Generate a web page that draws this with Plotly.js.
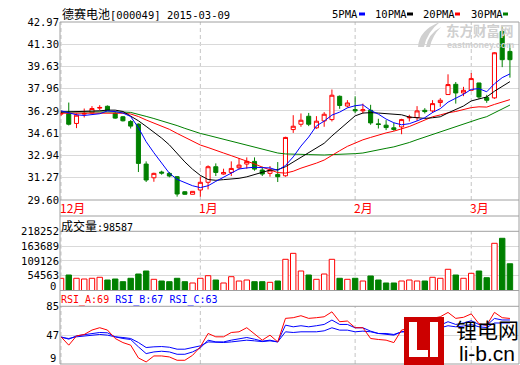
<!DOCTYPE html>
<html><head><meta charset="utf-8">
<script src="https://cdn.plot.ly/plotly-3.0.1.min.js"></script>
<style>html,body{margin:0;padding:0;background:#fff;}#chart{width:520px;height:365px;}</style>
</head><body><div id="chart"></div>
<script>
// ---- data ----
const openP  = [36.05,36.09,35.35,36.05,36.15,36.50,36.64,36.10,35.85,35.50,35.30,32.30,31.27,31.70,31.60,31.35,30.22,30.03,30.35,30.93,32.10,31.55,31.67,32.02,32.30,32.50,31.85,31.60,31.52,31.42,34.89,35.29,35.89,35.02,35.54,35.64,37.39,36.66,36.39,36.30,36.34,35.32,35.22,35.02,35.09,35.77,35.79,36.34,36.29,36.92,37.52,38.29,37.64,37.84,38.39,37.29,37.27,42.26,40.76];
const highP  = [36.30,36.92,36.10,36.47,36.65,36.72,36.70,36.25,35.90,35.60,35.35,32.50,31.65,31.80,31.70,31.40,30.25,30.25,31.35,32.20,32.35,31.95,32.50,32.75,32.80,32.80,32.10,32.15,32.45,34.35,35.97,36.10,36.14,35.90,36.20,37.90,37.45,37.10,37.39,36.84,36.75,35.70,35.60,35.40,35.70,36.00,36.65,36.50,37.10,37.25,39.04,38.46,38.10,39.14,38.40,37.50,40.70,42.63,41.33];
const lowP   = [35.90,35.20,35.00,35.80,36.10,36.34,36.30,35.70,35.50,34.97,31.70,30.95,30.97,31.50,31.30,29.85,30.00,30.03,29.85,30.40,31.40,31.50,31.40,31.90,31.95,31.80,31.40,31.35,30.95,31.35,34.64,35.10,35.15,34.95,35.10,35.50,36.45,36.55,36.14,36.10,35.25,34.97,34.85,34.80,34.54,35.50,35.55,36.10,36.14,36.60,37.50,36.84,37.40,37.84,37.20,36.90,37.20,39.58,38.79];
const closeP = [36.10,35.29,35.97,36.10,36.47,36.55,36.34,35.75,35.55,35.15,32.35,31.10,31.60,31.62,31.40,30.05,30.03,30.25,30.93,32.10,31.67,31.67,31.97,32.22,32.50,31.92,31.55,31.85,31.35,34.30,35.14,35.59,35.29,35.52,36.04,37.47,36.70,36.89,36.30,36.38,35.39,35.27,35.04,34.90,35.64,35.82,36.29,36.24,36.84,37.09,38.27,37.64,37.84,38.72,37.34,37.09,40.66,40.14,40.14];
const volume = [45000,57100,45000,42400,45000,48700,38700,42400,32500,45000,60800,71900,41300,35000,32500,45000,32500,27700,45000,54600,38700,27700,50900,35000,38700,32500,32500,30200,35000,115000,137000,71900,57100,41300,60800,115000,45000,41300,45000,35000,53500,38700,27700,27700,35000,38700,35000,35000,48700,45000,78200,57100,45000,63400,71900,47200,174000,192500,98587];
const ma5  = [36.30,36.15,36.00,35.95,35.99,36.08,36.29,36.24,36.13,35.87,35.03,33.98,33.15,32.36,31.61,31.15,30.94,30.67,30.53,30.67,31.00,31.32,31.67,31.93,32.01,32.06,32.03,32.01,31.83,32.19,32.84,33.65,34.33,35.17,35.52,35.98,36.20,36.52,36.68,36.75,36.33,36.05,35.68,35.40,35.25,35.33,35.54,35.78,36.17,36.46,36.95,37.22,37.54,37.91,37.96,37.73,38.33,38.79,39.07];
const ma10 = [36.20,36.22,36.22,36.22,36.25,36.30,36.35,36.35,36.25,35.93,35.55,35.13,34.70,34.25,33.74,33.09,32.46,31.91,31.45,31.14,31.08,31.13,31.17,31.23,31.34,31.53,31.68,31.84,31.88,32.10,32.45,32.84,33.17,33.50,33.86,34.41,34.93,35.43,35.92,36.13,36.16,36.13,36.10,36.04,36.00,35.83,35.79,35.73,35.78,35.85,36.14,36.38,36.66,37.04,37.21,37.34,37.77,38.16,38.49];
const ma20 = [36.12,36.12,36.12,36.13,36.14,36.15,36.16,36.15,36.12,36.06,35.87,35.61,35.38,35.15,34.91,34.60,34.29,33.99,33.73,33.54,33.31,33.13,32.93,32.74,32.54,32.31,32.07,31.87,31.66,31.62,31.76,31.99,32.17,32.37,32.60,32.97,33.30,33.63,33.90,34.12,34.30,34.48,34.64,34.77,34.93,35.12,35.36,35.58,35.85,35.99,36.15,36.25,36.38,36.54,36.60,36.58,36.78,36.95,37.14];
const ma30 = [36.22,36.22,36.22,36.22,36.23,36.24,36.25,36.24,36.21,36.18,36.05,35.88,35.72,35.56,35.40,35.19,34.98,34.78,34.60,34.46,34.31,34.16,34.02,33.88,33.75,33.60,33.44,33.29,33.13,33.06,33.02,33.03,33.01,32.99,32.98,33.01,33.02,33.06,33.08,33.13,33.23,33.37,33.48,33.59,33.73,33.92,34.13,34.33,34.53,34.69,34.91,35.11,35.31,35.53,35.69,35.86,36.16,36.44,36.73];
const rsiA = [44.8,33.8,46.0,47.9,53.7,56.8,53.7,42.6,37.2,33.8,17.0,11.7,19.6,19.6,18.3,13.9,13.9,20.5,31.6,49.2,44.8,44.8,50.5,51.4,56.8,49.2,40.4,47.0,38.1,69.1,70.0,72.6,69.1,70.0,71.2,77.7,64.7,65.6,56.8,56.8,42.6,41.3,40.4,37.2,53.7,55.9,61.2,61.2,69.1,71.2,76.9,69.1,70.5,75.0,62.0,60.0,77.0,70.0,69.0];
const rsiB = [44.8,41.7,46.1,47.9,49.2,50.5,50.1,44.8,42.6,41.3,31.6,22.7,24.9,25.8,24.9,21.8,21.8,24.9,30.2,40.4,38.1,38.1,40.4,41.7,43.9,41.7,39.1,40.4,38.1,60.2,58.0,59.4,58.0,59.4,61.1,66.9,61.1,61.1,56.7,56.7,52.3,49.2,47.9,47.0,51.4,52.3,55.9,55.9,59.4,60.2,64.7,61.1,63.0,66.0,61.0,60.0,69.0,67.0,67.0];
const rsiC = [43.9,42.6,44.8,46.1,47.0,47.9,47.0,44.8,43.9,42.6,37.3,30.7,31.6,32.0,31.1,28.5,28.5,30.2,32.9,38.1,37.3,37.3,38.1,39.1,40.4,39.5,38.5,39.5,38.1,51.4,50.5,51.4,51.4,51.4,52.7,56.7,53.6,53.6,51.4,52.3,51.4,49.2,49.2,47.9,51.4,51.4,53.6,53.6,55.9,56.7,59.4,58.0,59.0,61.0,58.0,57.0,63.0,63.0,63.0];
const priceTicks = [29.60,31.27,32.94,34.61,36.29,37.96,39.63,41.30,42.97];
const volTicks = [54563,109126,163689,218252];
const rsiTicks = [47,85];
const monthIdx = [0,18,38,53];
const monthLabels = ['12月','1月','2月','3月'];
const titleName = '德赛电池', titleCode = '[000049] 2015-03-09';
const lastVol = 98587, lastRsi = [69,67,63];

// ---- geometry helpers ----
const Lp=60, Rp=519, Tp=22, Bp=364;
const px = x => (x-Lp)/(Rp-Lp);
const py = y => (Bp-y)/(Bp-Tp);
const P = (x,y) => px(x).toFixed(4)+','+py(y).toFixed(4);
const idx = closeP.map((_,i)=>i);
const up = closeP.map((c,i)=>c>=openP[i]);
const mono = 'DejaVu Sans Mono';
const cjk = 'Noto Sans CJK SC';
const RED='#ff0000', GRN='#008000', BLU='#0000ff';

const traces = [
  {type:'candlestick', x:idx, open:openP, high:highP, low:lowP, close:closeP,
   increasing:{line:{color:RED,width:1}, fillcolor:'#ffffff'},
   decreasing:{line:{color:GRN,width:1}, fillcolor:GRN},
   whiskerwidth:0, hoverinfo:'skip', xaxis:'x', yaxis:'y'},
  {type:'scatter', mode:'lines', x:idx, y:ma30, line:{color:GRN,width:1}, xaxis:'x', yaxis:'y'},
  {type:'scatter', mode:'lines', x:idx, y:ma20, line:{color:RED,width:1}, xaxis:'x', yaxis:'y'},
  {type:'scatter', mode:'lines', x:idx, y:ma10, line:{color:'#000000',width:1}, xaxis:'x', yaxis:'y'},
  {type:'scatter', mode:'lines', x:idx, y:ma5, line:{color:BLU,width:1}, xaxis:'x', yaxis:'y'},
  {type:'bar', x:idx, y:volume, width:0.7,
   marker:{color:up.map(u=>u?'#ffffff':GRN), line:{color:up.map(u=>u?RED:GRN), width:1}},
   xaxis:'x2', yaxis:'y2'},
  {type:'scatter', mode:'lines', x:idx, y:rsiC, line:{color:BLU,width:1}, xaxis:'x3', yaxis:'y3'},
  {type:'scatter', mode:'lines', x:idx, y:rsiB, line:{color:BLU,width:1}, xaxis:'x3', yaxis:'y3'},
  {type:'scatter', mode:'lines', x:idx, y:rsiA, line:{color:RED,width:1}, xaxis:'x3', yaxis:'y3'}
];

const xr = [-0.13, 59.17];
const xbase = {range:xr, showgrid:false, zeroline:false, showticklabels:false, ticks:'', showline:false, fixedrange:true};
const ybase = {showgrid:true, gridcolor:'#d9d9d9', gridwidth:1, zeroline:false, showline:false, ticks:'',
  tickfont:{family:mono,size:10.5,color:'#000'}, fixedrange:true};

const BORDER='#a0a0a0';
const shapes = [];
const hline = y => shapes.push({type:'line', xref:'paper', yref:'paper', x0:0, x1:1, y0:py(y), y1:py(y), line:{color:BORDER,width:1}});
[22,200,216,231.3,290.5,306.3,364].forEach(hline);
[0,1].forEach(x=>shapes.push({type:'line', xref:'paper', yref:'paper', x0:x, x1:x, y0:0, y1:1, line:{color:BORDER,width:1}}));
[['x','y'],['x2','y2'],['x3','y3']].forEach(([xa,ya])=>{
  monthIdx.forEach(m=>shapes.push({type:'line', xref:xa, yref:ya+' domain', x0:m, x1:m, y0:0, y1:1,
    layer:'below', line:{color:'#c4c4c4', width:1, dash:'4px,3px'}}));
});
// legend swatches
[[359,365,BLU],[407,413,'#000'],[455,460,RED],[503,508,GRN]].forEach(([a,b,c])=>
  shapes.push({type:'rect', xref:'paper', yref:'paper', x0:px(a), x1:px(b), y0:py(15.5), y1:py(12.5), fillcolor:c, line:{width:0}}));
// eastmoney watermark swoosh
shapes.push({type:'path', xref:'paper', yref:'paper', path:'M'+P(418,47)+' Q'+P(419,30)+' '+P(440,22)+' Q'+P(427,32)+' '+P(424,47)+' Z', fillcolor:'#d0d0d0', line:{width:0}});
shapes.push({type:'path', xref:'paper', yref:'paper', path:'M'+P(426,47)+' Q'+P(428,34)+' '+P(441,27)+' Q'+P(432,36)+' '+P(430,47)+' Z', fillcolor:'#d0d0d0', line:{width:0}});
// li-b.cn logo
shapes.push({type:'rect', xref:'paper', yref:'paper', x0:px(404), x1:px(444), y0:py(365), y1:py(317), fillcolor:'#cc0000', line:{width:0}});
[[409,417,322,357],[409,428,350,357],[430,438,322,357]].forEach(([a,b,c,d])=>
  shapes.push({type:'rect', xref:'paper', yref:'paper', x0:px(a), x1:px(b), y0:py(d), y1:py(c), fillcolor:'#ffffff', line:{width:0}}));

const ann = [];
const A = (o)=>ann.push(Object.assign({xref:'paper', yref:'paper', showarrow:false, borderpad:0}, o));
A({x:px(61), y:py(14), xanchor:'left', yanchor:'middle', font:{family:mono+', '+cjk, size:10.5, color:'#000'},
   text:'<span style="font-size:12px">'+titleName+'</span>'+titleCode});
[['5PMA',330.5],['10PMA',374],['20PMA',421.5],['30PMA',469.5]].forEach(([t,x])=>
  A({x:px(x), y:py(14), xanchor:'left', yanchor:'middle', font:{family:mono,size:10.5,color:'#000'}, text:t}));
monthIdx.forEach((m,i)=>ann.push({xref:'x', yref:'paper', x:m, y:py(207.5), xanchor:'left', yanchor:'middle', xshift:-2,
   showarrow:false, borderpad:0, font:{family:cjk,size:12,color:RED}, text:monthLabels[i]}));
A({x:px(60), y:py(226), xanchor:'left', yanchor:'middle', font:{family:mono+', '+cjk,size:10,color:'#000'},
   text:'<span style="font-size:12px">成交量</span>:'+lastVol});
A({x:px(60), y:py(300), xanchor:'left', yanchor:'middle', font:{family:mono,size:10,color:'#000'},
   text:'<span style="fill:'+RED+'">RSI_A:'+lastRsi[0]+'</span> <span style="fill:'+BLU+'">RSI_B:'+lastRsi[1]+'</span> <span style="fill:'+BLU+'">RSI_C:'+lastRsi[2]+'</span>'});
A({x:px(57), y:py(285.5), xanchor:'right', yanchor:'middle', font:{family:mono,size:10.5,color:'#000'}, text:'0'});
A({x:px(57), y:py(357.5), xanchor:'right', yanchor:'middle', font:{family:mono,size:10.5,color:'#000'}, text:'9'});
// watermarks
A({x:px(480), y:py(30), xanchor:'center', yanchor:'middle', font:{family:cjk,size:13.5,color:'#cfcfcf', weight:700}, text:'东方财富网'});
A({x:px(480), y:py(45), xanchor:'center', yanchor:'middle', font:{family:'Liberation Sans',size:9,color:'#cfcfcf', weight:700}, text:'eastmoney.com'});
A({x:px(487), y:py(328.5), xanchor:'center', yanchor:'middle', font:{family:cjk,size:21,color:'#000'}, text:'锂电网'});
A({x:px(487), y:py(353), xanchor:'center', yanchor:'middle', font:{family:'Liberation Sans',size:21,color:'#000'}, text:'li-b.cn'});

const layout = {
  width:520, height:365, margin:{l:60,r:1,t:22,b:1,pad:0},
  paper_bgcolor:'#fff', plot_bgcolor:'#fff', showlegend:false, hovermode:false, boxgap:0.25,
  font:{family:mono, size:10.5, color:'#000'},
  xaxis: Object.assign({}, xbase, {anchor:'y', rangeslider:{visible:false}}),
  xaxis2: Object.assign({}, xbase, {anchor:'y2'}),
  xaxis3: Object.assign({}, xbase, {anchor:'y3'}),
  yaxis: Object.assign({}, ybase, {domain:[py(200),1], range:[29.60,42.97], tickvals:priceTicks, ticktext:priceTicks.map(v=>v.toFixed(2))}),
  yaxis2: Object.assign({}, ybase, {domain:[py(290.5),py(231.3)], range:[0,218252], tickvals:volTicks, ticktext:volTicks.map(String)}),
  yaxis3: Object.assign({}, ybase, {domain:[0,py(306.3)], range:[9,85], tickvals:rsiTicks, ticktext:rsiTicks.map(String)}),
  shapes:shapes, annotations:ann
};
Plotly.newPlot('chart', traces, layout, {staticPlot:true, displayModeBar:false});
</script></body></html>
